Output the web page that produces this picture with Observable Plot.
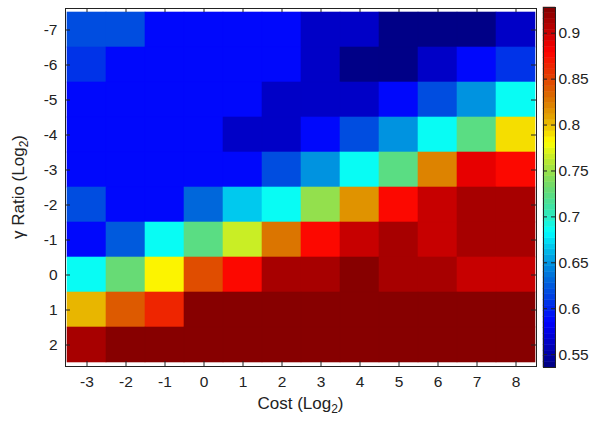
<!DOCTYPE html>
<html><head><meta charset="utf-8">
<script src="https://cdn.jsdelivr.net/npm/d3@7"></script>
<script src="https://cdn.jsdelivr.net/npm/@observablehq/plot@0.6"></script>
<style>
body{margin:0;background:#fff;}
#chart{position:relative;width:600px;height:421px;font-family:"Liberation Sans",Arial,sans-serif;}
#chart svg{position:absolute;top:0;}
</style></head><body><div id="chart"></div>
<script>
// ---- data ----
const costs = [-3, -2, -1, 0, 1, 2, 3, 4, 5, 6, 7, 8];
const gammas = [-7, -6, -5, -4, -3, -2, -1, 0, 1, 2];
const rowM7 = [0.618, 0.618, 0.588, 0.588, 0.588, 0.588, 0.566, 0.566, 0.540, 0.540, 0.540, 0.564];
const rowM6 = [0.606, 0.588, 0.588, 0.588, 0.588, 0.588, 0.565, 0.540, 0.540, 0.565, 0.588, 0.606];
const rowM5 = [0.588, 0.588, 0.588, 0.588, 0.588, 0.565, 0.565, 0.565, 0.588, 0.618, 0.652, 0.683];
const rowM4 = [0.588, 0.588, 0.588, 0.588, 0.565, 0.565, 0.588, 0.618, 0.652, 0.683, 0.722, 0.790];
const rowM3 = [0.588, 0.588, 0.588, 0.588, 0.588, 0.618, 0.652, 0.683, 0.722, 0.820, 0.890, 0.879];
const rowM2 = [0.618, 0.588, 0.588, 0.634, 0.665, 0.683, 0.748, 0.815, 0.879, 0.899, 0.915, 0.915];
const rowM1 = [0.588, 0.622, 0.683, 0.722, 0.765, 0.830, 0.879, 0.899, 0.915, 0.899, 0.915, 0.915];
const row0  = [0.683, 0.732, 0.781, 0.845, 0.879, 0.915, 0.915, 0.926, 0.915, 0.915, 0.899, 0.899];
const row1  = [0.805, 0.840, 0.865, 0.926, 0.926, 0.926, 0.926, 0.926, 0.926, 0.926, 0.926, 0.926];
const row2  = [0.915, 0.926, 0.926, 0.926, 0.926, 0.926, 0.926, 0.926, 0.926, 0.926, 0.926, 0.926];
const accuracy = [rowM7, rowM6, rowM5, rowM4, rowM3, rowM2, rowM1, row0, row1, row2];
const colorDomain = [0.536, 0.928];
const colorTicks = [0.55, 0.6, 0.65, 0.7, 0.75, 0.8, 0.85, 0.9];

// ---- jet colormap (64 levels), slightly muted between primaries like the reference ----
const clamp01 = v => Math.max(0, Math.min(1, v));
function jet(t) {
  t = clamp01(t);
  const idx = Math.min(63, Math.floor(t * 64));
  const u = (idx + 0.5) / 64;
  let r = clamp01(1.5 - Math.abs(4 * u - 3));
  let g = clamp01(1.5 - Math.abs(4 * u - 2));
  let b = clamp01(1.5 - Math.abs(4 * u - 1));
  if (u > 0.125 && u < 0.875) {
    const phase = ((u - 0.125) % 0.25) / 0.25;
    const dim = 1 - 0.14 * Math.sin(Math.PI * phase);
    r *= dim; g *= dim; b *= dim;
  }
  return `rgb(${Math.round(r * 255)},${Math.round(g * 255)},${Math.round(b * 255)})`;
}
const colorOpts = {type: "linear", domain: colorDomain, interpolate: jet, clamp: true};

const data = gammas.flatMap((g, i) => costs.map((c, j) => ({cost: c, gamma: g, value: accuracy[i][j]})));

const W = 600, H = 421, mL = 65, mR = 64, mT = 8, mB = 55;
const iw = W - mL - mR, ih = H - mT - mB;
const ink = "#222";
const font = '"Liberation Sans", Arial, sans-serif';

const main = Plot.plot({
  width: W, height: H, marginLeft: mL, marginRight: mR, marginTop: mT, marginBottom: mB,
  style: {fontFamily: font, fontSize: "15.5px", color: ink, background: "#fff"},
  x: {type: "band", domain: costs, padding: 0, label: null},
  y: {type: "band", domain: gammas, padding: 0, label: null},
  color: colorOpts,
  marks: [
    Plot.cell(data, {x: "cost", y: "gamma", fill: "value", stroke: "value", strokeWidth: 0.6, inset: 0}),
    Plot.ruleX(costs, {x: d => d, insetTop: ih - 5, stroke: ink}),
    Plot.ruleX(costs, {x: d => d, insetBottom: ih - 4, stroke: ink}),
    Plot.ruleY(gammas, {y: d => d, insetRight: iw - 5, stroke: ink}),
    Plot.ruleY(gammas, {y: d => d, insetLeft: iw - 5, stroke: ink}),
    Plot.frame({stroke: ink}),
    Plot.axisX({anchor: "bottom", tickSize: 0, tickPadding: 9, label: null, tickFormat: d => String(d)}),
    Plot.axisY({anchor: "left", tickSize: 0, tickPadding: 8, label: null, tickFormat: d => String(d)})
  ]
});

const svg = d3.select(main);
const xl = svg.append("text")
  .attr("x", mL + iw / 2).attr("y", 409)
  .attr("text-anchor", "middle").attr("font-size", 17).attr("fill", ink).attr("font-family", font);
xl.append("tspan").text("Cost (Log");
xl.append("tspan").attr("font-size", 12).attr("dy", 4).text("2");
xl.append("tspan").attr("dy", -4).text(")");

const yl = svg.append("text")
  .attr("transform", `translate(24,${mT + ih / 2}) rotate(-90)`)
  .attr("text-anchor", "middle").attr("font-size", 17).attr("fill", ink).attr("font-family", font);
yl.append("tspan").text("γ Ratio (Log");
yl.append("tspan").attr("font-size", 12).attr("dy", 4).text("2");
yl.append("tspan").attr("dy", -4).text(")");

// ---- colorbar ----
const nBands = 64;
const step = (colorDomain[1] - colorDomain[0]) / nBands;
const bands = d3.range(nBands).map(i => ({y1: colorDomain[0] + i * step, y2: colorDomain[0] + (i + 1) * step}));
const barW = 12;
const bar = Plot.plot({
  width: 60, height: H, marginLeft: 3, marginRight: 60 - 3 - barW, marginTop: 7, marginBottom: 54,
  style: {fontFamily: font, fontSize: "15.5px", color: ink, background: "transparent"},
  y: {domain: colorDomain, label: null},
  color: colorOpts,
  marks: [
    Plot.rect(bands, {y1: "y1", y2: "y2", fill: d => (d.y1 + d.y2) / 2, stroke: d => (d.y1 + d.y2) / 2, strokeWidth: 0.5}),
    Plot.ruleY(colorTicks, {y: d => d, insetRight: barW - 4, stroke: ink}),
    Plot.ruleY(colorTicks, {y: d => d, insetLeft: barW - 4, stroke: ink}),
    Plot.frame({stroke: ink}),
    Plot.axisY({anchor: "right", ticks: colorTicks, tickSize: 0, tickPadding: 3, label: null, tickFormat: d => String(d)})
  ]
});

const chart = document.getElementById("chart");
chart.appendChild(main);
main.style.left = "0px";
chart.appendChild(bar);
bar.style.left = "540px";
</script>
</body></html>
